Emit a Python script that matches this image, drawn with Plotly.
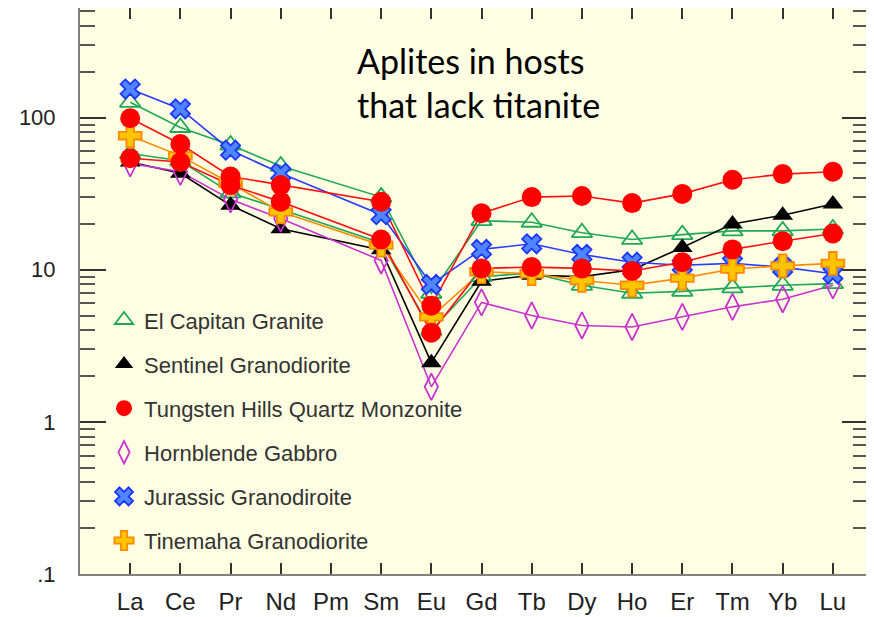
import plotly.graph_objects as go

elements = ["La", "Ce", "Pr", "Nd", "Pm", "Sm", "Eu", "Gd", "Tb", "Dy", "Ho", "Er", "Tm", "Yb", "Lu"]

el_capitan_a = [126, 86, 66, 48, None, 30, 7.0, 21, 20.5, 17.5, 15.8, 17, 18, 18, 18.5]
el_capitan_b = [58, 52, 32, 25, None, 15, 4.0, 9.0, 9.5, 7.9, 7.0, 7.2, 7.6, 7.9, 8.1]
sentinel = [51, 43, 26.5, 18.6, None, 13.5, 2.45, 8.4, 9.2, 9.0, 10.0, 14.0, 20, 22.8, 27]
tungsten_a = [99, 67, 41, 36, None, 28, 5.8, 23.5, 30, 30.5, 27.4, 31.5, 39, 42.5, 44]
tungsten_b = [54, 51, 36, 28, None, 15.8, 3.85, 10.2, 10.4, 10.2, 9.8, 11.2, 13.6, 15.4, 17.3]
hornblende = [50, 44, 29, 21.7, None, 11.5, 1.7, 6.1, 5.0, 4.3, 4.2, 4.9, 5.7, 6.4, 7.9]
jurassic = [154, 114, 61, 43, None, 23, 8.0, 13.6, 14.8, 12.6, 11.2, 10.7, 11.0, 10.4, 9.4]
tinemaha = [76, 56, 37, 24, None, 14.5, 4.9, 9.7, 9.4, 8.5, 7.9, 8.8, 10.1, 10.6, 11.0]

y_tickvals = [0.1, 1, 10, 100]
y_ticktext = [".1", "1", "10", "100"]

series = [
    # name, values, line colour, symbol, size, fill, outline, show legend, rank
    ("El Capitan Granite", el_capitan_a, "#1fa85a", "triangle-up-open", 18, "#1fa85a", "#1fa85a", True, 1),
    ("El Capitan Granite", el_capitan_b, "#1fa85a", "triangle-up-open", 18, "#1fa85a", "#1fa85a", False, 1),
    ("Sentinel Granodiorite", sentinel, "#000000", "triangle-up", 18, "#000000", "#000000", True, 2),
    ("Hornblende Gabbro", hornblende, "#c833d0", "diamond-tall-open", 19, "#c833d0", "#c833d0", True, 4),
    ("Jurassic Granodiroite", jurassic, "#2a3cff", "x", 17, "#4f86ff", "#1e36ff", True, 5),
    ("Tinemaha Granodiorite", tinemaha, "#ff8a00", "cross", 19, "#ffc400", "#ff8a00", True, 6),
    ("Tungsten Hills Quartz Monzonite", tungsten_a, "#ff1010", "circle", 20, "#ff0000", "#ff0000", True, 3),
    ("Tungsten Hills Quartz Monzonite", tungsten_b, "#ff1010", "circle", 20, "#ff0000", "#ff0000", False, 3),
]

fig = go.Figure()

for name, vals, lc, sym, sz, fill, outline, show, rank in series:
    fig.add_trace(go.Scatter(
        x=elements, y=vals, mode="lines", connectgaps=True,
        line=dict(color=lc, width=1.6), showlegend=False, hoverinfo="skip",
    ))

for name, vals, lc, sym, sz, fill, outline, show, rank in series:
    fig.add_trace(go.Scatter(
        x=elements, y=vals, mode="markers", name=name,
        legendgroup=name, showlegend=show, legendrank=rank,
        marker=dict(symbol=sym, size=sz, color=fill,
                    line=dict(color=outline, width=1.8 if "open" in sym or sym in ("x", "cross") else 0)),
    ))

fig.add_annotation(
    xref="paper", yref="paper", x=0.349, y=0.947, xanchor="left", yanchor="top",
    text="Aplites in hosts<br>that lack titanite", showarrow=False, align="left",
    font=dict(family="Lato, Open Sans, sans-serif", size=34, color="#000000"),
)

fig.update_layout(
    width=866, height=609,
    margin=dict(l=72, r=6, t=0, b=43, autoexpand=False),
    paper_bgcolor="#ffffff",
    plot_bgcolor="#fefee2",
    font=dict(family="Liberation Sans, Arial, sans-serif", color="#222222"),
    legend=dict(
        x=0.0305, y=0.4855, xanchor="left", yanchor="top",
        bgcolor="rgba(0,0,0,0)", traceorder="grouped", tracegroupgap=12.5,
        font=dict(size=22, color="#333333"), itemsizing="trace",
    ),
    xaxis=dict(
        type="category", categoryorder="array", categoryarray=elements,
        range=[-1, 14.7], showgrid=False, zeroline=False, automargin=False,
        showline=True, linecolor="#808080", linewidth=2, mirror="ticks",
        ticks="inside", ticklen=11, tickwidth=1.5, tickcolor="#333333",
        tickfont=dict(size=24, color="#222222"), ticklabelstandoff=5,
    ),
    yaxis=dict(
        type="log", range=[-1, 2.72], showgrid=False, zeroline=False, automargin=False,
        showline=True, linecolor="#808080", linewidth=2, mirror="ticks",
        tickmode="array", tickvals=y_tickvals, ticktext=y_ticktext,
        ticks="inside", ticklen=26, tickwidth=1.5, tickcolor="#333333",
        tickfont=dict(size=22, color="#222222"), ticklabelstandoff=18,
        minor=dict(ticks="inside", ticklen=15, tickwidth=1.5, tickcolor="#555555",
                   dtick="D1", showgrid=False),
    ),
)

fig.write_html("out.html")
